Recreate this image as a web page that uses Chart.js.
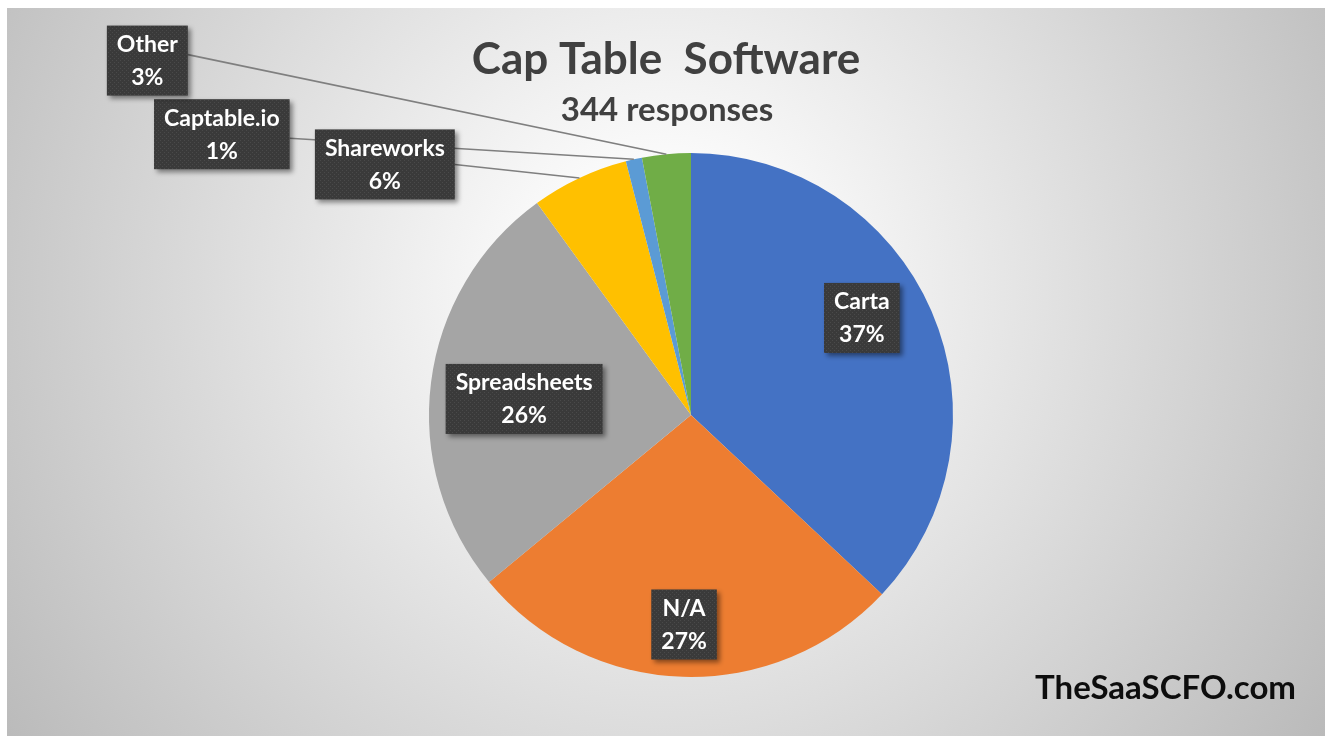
<!DOCTYPE html>
<html>
<head>
<meta charset="utf-8">
<script src="https://cdn.jsdelivr.net/npm/chart.js@4.4.1/dist/chart.umd.min.js"></script>
<style>
    html, body { margin: 0; padding: 0; background: #ffffff; }
    #wrap { width: 1325px; height: 736px; position: relative; }
</style>
</head>
<body>
<div id="wrap"><canvas id="capChart" width="1325" height="736"></canvas></div>
<script>
// Data
const categories = ['Carta', 'N/A', 'Spreadsheets', 'Shareworks', 'Captable.io', 'Other'];
const shares = [37, 27, 26, 6, 1, 3];
const sliceColors = ['#4472C4', '#ED7D31', '#A5A5A5', '#FFC000', '#5B9BD5', '#70AD47'];
const titleText = 'Cap Table  Software';
const subtitleText = '344 responses';
const footerText = 'TheSaaSCFO.com';

// Where each data label sits: angle (deg, clockwise from top) and distance in pie radii
const labelPlacement = [
    { angle: 60.4, dist: 0.75, leader: false },
    { angle: 181.9, dist: 0.80, leader: false },
    { angle: 275.5, dist: 0.64, leader: false },
    { angle: 309.3, dist: 1.51, leader: true },
    { angle: 300.9, dist: 2.087, leader: true },
    { angle: 303.1, dist: 2.477, leader: true }
];

const FONT = 'Lato, "Open Sans", "Noto Sans", sans-serif';

// dotted fill like the Excel label boxes
function makeDotPattern(ctx) {
    const p = document.createElement('canvas');
    p.width = 4; p.height = 4;
    const pc = p.getContext('2d');
    pc.fillStyle = '#3a3a3a';
    pc.fillRect(0, 0, 4, 4);
    pc.fillStyle = '#4a4a4a';
    pc.fillRect(0, 0, 1, 1);
    pc.fillRect(2, 2, 1, 1);
    return ctx.createPattern(p, 'repeat');
}

const backdrop = {
    id: 'backdrop',
    beforeDraw(chart) {
        const ctx = chart.ctx;
        ctx.save();
        ctx.fillStyle = '#ffffff';
        ctx.fillRect(0, 0, chart.width, chart.height);
        const g = ctx.createRadialGradient(662, 290, 0, 662, 290, 820);
        g.addColorStop(0, '#ffffff');
        g.addColorStop(0.15, '#fbfbfb');
        g.addColorStop(1, '#b8b8b8');
        ctx.fillStyle = g;
        ctx.fillRect(7, 8, chart.width - 7, chart.height - 8);

        ctx.fillStyle = '#404040';
        ctx.textAlign = 'center';
        ctx.textBaseline = 'middle';
        ctx.font = 'bold 44px ' + FONT;
        ctx.fillText(titleText, 666, 60);
        ctx.font = 'bold 33px ' + FONT;
        ctx.fillText(subtitleText, 667, 110);

        ctx.fillStyle = '#0d0d0d';
        ctx.font = 'bold 33px ' + FONT;
        ctx.textAlign = 'right';
        ctx.fillText(footerText, 1296, 688);
        ctx.restore();
    }
};

const sliceLabels = {
    id: 'sliceLabels',
    afterDatasetsDraw(chart) {
        const ctx = chart.ctx;
        const meta = chart.getDatasetMeta(0);
        const total = shares.reduce((a, b) => a + b, 0);
        const pattern = makeDotPattern(ctx);
        const boxes = [];
        const labelFont = 'bold 23px ' + FONT;

        meta.data.forEach((arc, i) => {
            const cx = arc.x, cy = arc.y, R = arc.outerRadius;
            const pl = labelPlacement[i];
            const a = pl.angle * Math.PI / 180;
            const bx = cx + Math.sin(a) * pl.dist * R;
            const by = cy - Math.cos(a) * pl.dist * R;
            const lines = [categories[i], Math.round(shares[i] / total * 100) + '%'];
            ctx.font = labelFont;
            const w = Math.max(...lines.map(t => ctx.measureText(t).width)) + 20;
            const h = 70;
            boxes.push({ i, bx, by, w, h, lines, arc });
        });

        // leader lines first so boxes sit on top
        ctx.save();
        ctx.strokeStyle = '#7f7f7f';
        ctx.lineWidth = 1.6;
        boxes.forEach(b => {
            if (!labelPlacement[b.i].leader) return;
            const arc = b.arc;
            const mid = (arc.startAngle + arc.endAngle) / 2;
            const ex = arc.x + Math.cos(mid) * arc.outerRadius;
            const ey = arc.y + Math.sin(mid) * arc.outerRadius;
            const sx = b.bx + b.w / 2;
            const sy = b.by + (b.i === 5 ? -6 : (b.i === 4 ? 4 : 0));
            ctx.beginPath();
            ctx.moveTo(sx, sy);
            ctx.lineTo(ex, ey);
            ctx.stroke();
        });
        ctx.restore();

        boxes.forEach(b => {
            ctx.save();
            ctx.shadowColor = 'rgba(0,0,0,0.45)';
            ctx.shadowBlur = 5;
            ctx.shadowOffsetX = 3;
            ctx.shadowOffsetY = 3;
            ctx.fillStyle = pattern;
            ctx.fillRect(b.bx - b.w / 2, b.by - b.h / 2, b.w, b.h);
            ctx.restore();

            ctx.save();
            ctx.fillStyle = '#ffffff';
            ctx.font = labelFont;
            ctx.textAlign = 'center';
            ctx.textBaseline = 'middle';
            ctx.fillText(b.lines[0], b.bx, b.by - 16);
            ctx.fillText(b.lines[1], b.bx, b.by + 17);
            ctx.restore();
        });
    }
};

const ctx = document.getElementById('capChart');
new Chart(ctx, {
    type: 'pie',
    data: {
        labels: categories,
        datasets: [{
            data: shares,
            backgroundColor: sliceColors,
            borderWidth: 0
        }]
    },
    options: {
        responsive: false,
        animation: false,
        layout: {
            padding: { top: 153, bottom: 59, left: 429, right: 372 }
        },
        plugins: {
            legend: { display: false },
            tooltip: { enabled: false },
            title: { display: false }
        }
    },
    plugins: [backdrop, sliceLabels]
});
</script>
</body>
</html>
